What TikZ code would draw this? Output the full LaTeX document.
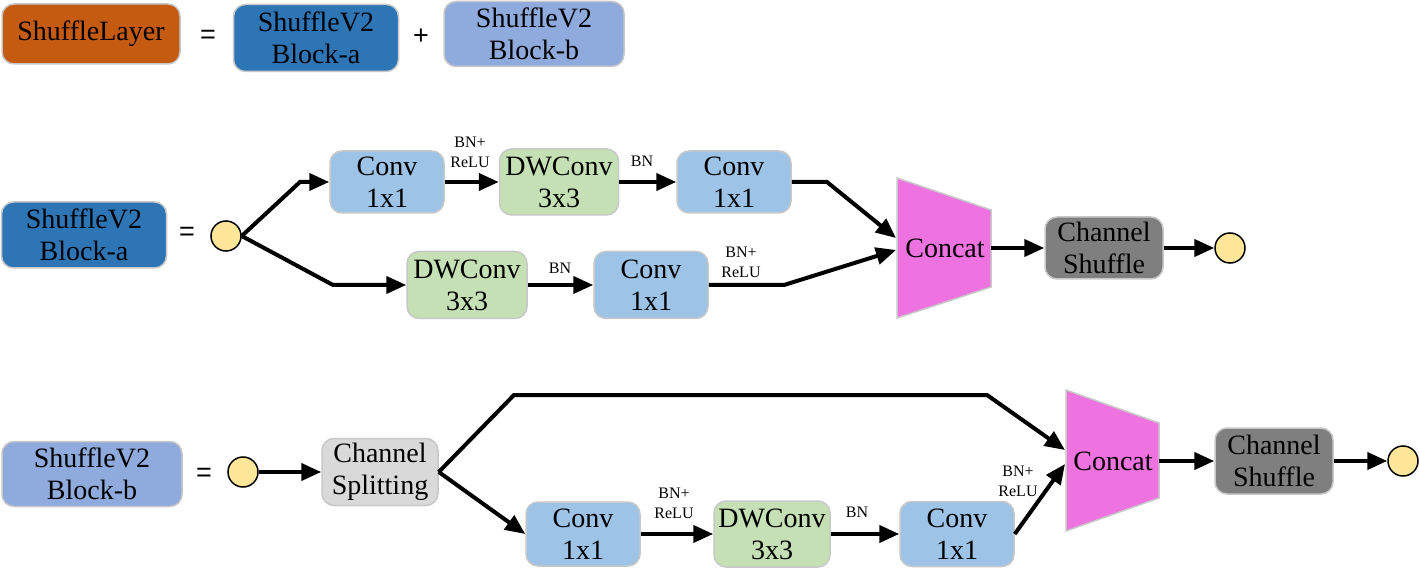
\documentclass[tikz,border=0pt]{standalone}
\usepackage{fontspec}
\setmainfont{Liberation Serif}
\newfontfamily\tnrfont{Liberation Serif}
\newfontfamily\myeqfont{Liberation Sans}
\usetikzlibrary{arrows.meta}
\definecolor{cOrange}{HTML}{C55A11}
\definecolor{cBlueA}{HTML}{2E75B6}
\definecolor{cBlueB}{HTML}{8FAADC}
\definecolor{cConv}{HTML}{9DC3E6}
\definecolor{cDW}{HTML}{C5E0B4}
\definecolor{cShuf}{HTML}{7F7F7F}
\definecolor{cSplit}{HTML}{D9D9D9}
\definecolor{cCat}{HTML}{EE72E0}
\definecolor{cCirc}{HTML}{FFE699}
\definecolor{cEdge}{HTML}{C8C8C8}
\tikzset{
  box/.style={draw=cEdge, line width=1.5pt, rounded corners=12pt, inner sep=0pt,
    align=center, font=\tnrfont\fontsize{28}{32}\selectfont},
  conv/.style={box, fill=cConv, minimum width=114pt, minimum height=62pt},
  dwconv/.style={box, fill=cDW, minimum width=119pt, minimum height=66pt},
  small/.style={align=center, inner sep=0pt, font=\tnrfont\fontsize{16}{20}\selectfont},
  eqsign/.style={inner sep=0pt, font=\myeqfont\fontsize{27}{32}\selectfont},
  io/.style={circle, draw=black, fill=cCirc, line width=1.5pt, minimum size=30pt, inner sep=0pt},
  arr/.style={line width=4pt, -{Triangle[length=20pt,width=17pt]}},
  cat/.style={fill=cCat, draw=cEdge, line width=1.5pt},
}
\begin{document}
\begin{tikzpicture}[x=1pt, y=-1pt]
\useasboundingbox (0,0) rectangle (1419,569);
% ---------- top legend ----------
\node[box, fill=cOrange, minimum width=178pt, minimum height=60pt] (layer) at (91,34) {ShuffleLayer};
\node[eqsign] (eq0) at (208,37) {=};
\node[box, fill=cBlueA, minimum width=165pt, minimum height=67pt] (la) at (316,38) {ShuffleV2\\Block-a};
\node[eqsign] (plus) at (421,37) {+};
\node[box, fill=cBlueB, minimum width=180pt, minimum height=65pt] (lb) at (534,34) {ShuffleV2\\Block-b};
% ---------- Block-a ----------
\node[box, fill=cBlueA, minimum width=165pt, minimum height=66pt] (ba) at (84,235) {ShuffleV2\\Block-a};
\node[eqsign] (eq1) at (187,234) {=};
\node[io] (ia) at (226,236) {};
\node[conv] (c1) at (387,182) {Conv\\1x1};
\node[dwconv] (d1) at (559,182) {DWConv\\3x3};
\node[conv] (c2) at (734,182) {Conv\\1x1};
\node[dwconv, minimum width=120pt, minimum height=67pt] (d2) at (467,285) {DWConv\\3x3};
\node[conv, minimum height=67pt] (c3) at (651,285) {Conv\\1x1};
\node[small] (l1) at (470,152) {BN+\\ReLU};
\node[small] (l2) at (642,161) {BN};
\node[small] (l3) at (560,268) {BN};
\node[small] (l4) at (741,262) {BN+\\ReLU};
\draw[cat] (897,178) -- (991,210) -- (991,287) -- (897,318) -- cycle;
\node[font=\tnrfont\fontsize{28}{32}\selectfont, inner sep=0pt] (ka) at (945,248) {Concat};
\coordinate (kaIn1) at (896,238);
\coordinate (kaIn2) at (896,250);
\coordinate (kaOut) at (991,248);
\node[box, fill=cShuf, minimum width=118pt, minimum height=62pt] (s1) at (1104,248) {Channel\\Shuffle};
\node[io] (oa) at (1230,248) {};
\coordinate (a1) at (300,182);
\coordinate (a2) at (333,285);
\coordinate (a3) at (827,182);
\coordinate (a4) at (784,285);
\draw[arr] (ia.east) -- (a1) -- (c1.west);
\draw[arr] (ia.east) -- (a2) -- (d2.west);
\draw[arr] (c1.east) -- (d1.west);
\draw[arr] (d1.east) -- (c2.west);
\draw[arr] (c2.east) -- (a3) -- (kaIn1);
\draw[arr] (d2.east) -- (c3.west);
\draw[arr] (c3.east) -- (a4) -- (kaIn2);
\draw[arr] (kaOut) -- (s1.west);
\draw[arr] (s1.east) -- (oa.west);
% ---------- Block-b ----------
\node[box, fill=cBlueB, minimum width=180pt, minimum height=65pt] (bb) at (92,474) {ShuffleV2\\Block-b};
\node[eqsign] (eq2) at (204,475) {=};
\node[io] (ib) at (243,472) {};
\node[box, fill=cSplit, minimum width=116pt, minimum height=67pt] (sp) at (380,472) {Channel\\Splitting};
\node[conv, minimum height=64pt] (c4) at (583,534) {Conv\\1x1};
\node[dwconv, minimum width=116pt] (d3) at (772,534) {DWConv\\3x3};
\node[conv, minimum height=65pt] (c5) at (957,534) {Conv\\1x1};
\node[small] (l5) at (674,503) {BN+\\ReLU};
\node[small] (l6) at (857,512) {BN};
\node[small] (l7) at (1018,481) {BN+\\ReLU};
\draw[cat] (1066,390) -- (1159,423) -- (1159,498) -- (1066,531) -- cycle;
\node[font=\tnrfont\fontsize{28}{32}\selectfont, inner sep=0pt] (kb) at (1113,461) {Concat};
\coordinate (kbIn1) at (1065,450);
\coordinate (kbIn2) at (1065,464);
\coordinate (kbOut) at (1159,461);
\node[box, fill=cShuf, minimum width=118pt, minimum height=66pt] (s2) at (1274,461) {Channel\\Shuffle};
\node[io] (ob) at (1403,461) {};
\coordinate (b1) at (514,395);
\coordinate (b2) at (987,395);
\draw[arr] (ib.east) -- (sp.west);
\draw[arr] (sp.east) -- (b1) -- (b2) -- (kbIn1);
\draw[arr] (sp.east) -- (c4.west);
\draw[arr] (c4.east) -- (d3.west);
\draw[arr] (d3.east) -- (c5.west);
\draw[arr] (c5.east) -- (kbIn2);
\draw[arr] (kbOut) -- (s2.west);
\draw[arr] (s2.east) -- (ob.west);
\end{tikzpicture}
\end{document}
